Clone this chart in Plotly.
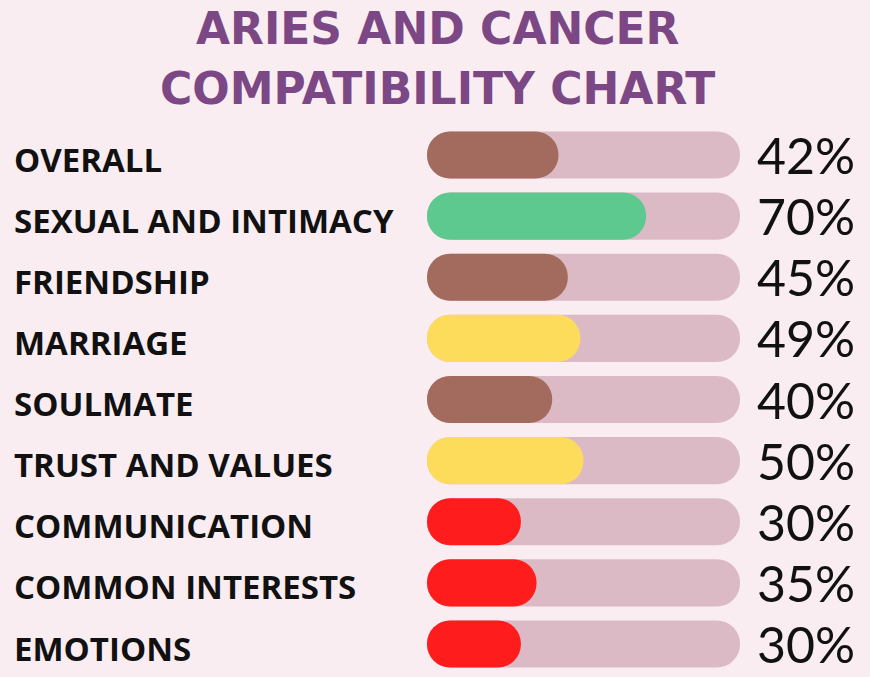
import plotly.graph_objects as go

# Compatibility scores, top to bottom
categories = ['OVERALL', 'SEXUAL AND INTIMACY', 'FRIENDSHIP', 'MARRIAGE', 'SOULMATE',
              'TRUST AND VALUES', 'COMMUNICATION', 'COMMON INTERESTS', 'EMOTIONS']
scores = [42, 70, 45, 49, 40, 50, 30, 35, 30]
full_scale = [100] * len(categories)
title_lines = ['ARIES AND CANCER', 'COMPATIBILITY CHART']


def score_colour(v):
    if v <= 35:
        return '#FF1C1C'
    if v <= 45:
        return '#A36B5D'
    if v <= 55:
        return '#FDDC5C'
    return '#5EC98F'


bg = '#F9EDF1'
W, H = 870, 677
left, right = 427, 740
top, bottom = 123, 1
plot_w = right - left
plot_h = H - top - bottom
bar_w = 0.77

fig = go.Figure()
# pink track behind every bar (explicit base -> both ends get rounded)
fig.add_trace(go.Bar(y=categories, x=full_scale, base=[0] * len(categories), orientation='h',
                     width=bar_w, hoverinfo='skip',
                     marker=dict(color='#DBBAC6', cornerradius='50%', line_width=0)))
# the score itself
fig.add_trace(go.Bar(y=categories, x=scores, base=[0] * len(categories), orientation='h',
                     width=bar_w, hoverinfo='skip',
                     marker=dict(color=[score_colour(v) for v in scores], cornerradius='50%', line_width=0)))

# row labels on the left
for cat in categories:
    fig.add_annotation(x=(12 - left) / plot_w, xref='paper', y=cat, yref='y', yshift=-4,
                       text='<b>' + cat + '</b>', showarrow=False, xanchor='left',
                       font=dict(family='Open Sans', size=33, color='#111111'))

# percentages on the right
for cat, v in zip(categories, scores):
    fig.add_annotation(x=(755 - left) / plot_w, xref='paper', y=cat, yref='y',
                       text=f'{v}%', showarrow=False, xanchor='left',
                       font=dict(family='Lato', size=50, color='#111111'))

# title, two lines
for i, line in enumerate(title_lines):
    fig.add_annotation(x=(437 - left) / plot_w, xref='paper', xanchor='center',
                       y=(H - bottom - 28 - 61 * i) / plot_h, yref='paper', yanchor='middle',
                       text='<b>' + line + '</b>', showarrow=False,
                       font=dict(family='DejaVu Sans', size=44, color='#7B4784'))

fig.update_layout(
    width=W, height=H,
    margin=dict(l=left, r=W - right, t=top, b=bottom),
    paper_bgcolor=bg, plot_bgcolor=bg,
    barmode='overlay', showlegend=False,
    xaxis=dict(range=[0, 100], visible=False, fixedrange=True),
    yaxis=dict(autorange='reversed', visible=False, fixedrange=True),
)

fig.write_html('out.html', config={'displayModeBar': False},
               post_script="document.body.style.margin='0';")
